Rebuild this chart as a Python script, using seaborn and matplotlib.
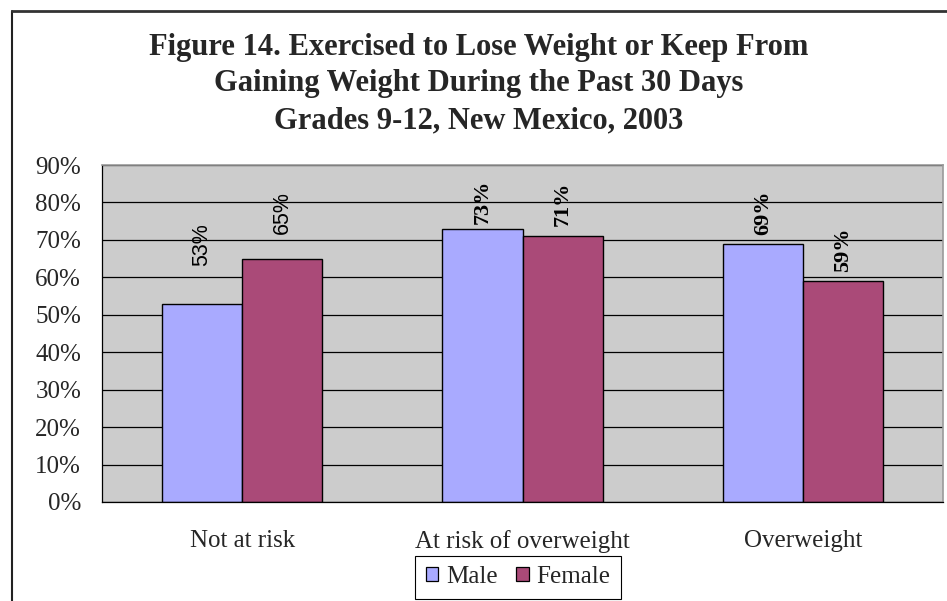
import matplotlib
matplotlib.use("Agg")
import matplotlib.pyplot as plt
from matplotlib.lines import Line2D
from matplotlib.patches import Patch
from matplotlib.ticker import FixedLocator, NullFormatter
import pandas as pd
import seaborn as sns

# --- data -------------------------------------------------------------
categories = ["Not at risk", "At risk of overweight", "Overweight"]
groups = ["Male", "Female"]
male = [53, 73, 69]
female = [65, 71, 59]
y_ticks = [0, 10, 20, 30, 40, 50, 60, 70, 80, 90]
y_tick_labels = [f"{v}%" for v in y_ticks]
title_lines = [
    "Figure 14. Exercised to Lose Weight or Keep From",
    "Gaining Weight During the Past 30 Days",
    "Grades 9-12, New Mexico, 2003",
]

# --- styling ----------------------------------------------------------
colors = {"Male": "#A9AAFF", "Female": "#AA4A78"}
# gap (points) between each bar top and its value label, per group
label_gap = {"Male": [27, 3, 6.5], "Female": [18, 7, 6.5]}
label_style = [
    dict(family="Liberation Sans", weight="normal", size=15.5),
    dict(family="Liberation Serif", weight="bold", size=16),
    dict(family="Liberation Serif", weight="bold", size=16),
]

df = pd.DataFrame({
    "Category": categories * 2,
    "Sex": ["Male"] * len(categories) + ["Female"] * len(categories),
    "Percent": male + female,
})

sns.set_theme(style="white")
plt.rcParams["font.family"] = ["Liberation Serif", "DejaVu Serif"]

W, H = 947, 601
fig = plt.figure(figsize=(W / 100, H / 100), dpi=100)
fig.patch.set_facecolor("white")

ax = fig.add_axes([102 / W, 1 - 502 / H, (943 - 102) / W, (502 - 165) / H])
ax.set_facecolor("#CCCCCC")

sns.barplot(
    data=df, x="Category", y="Percent", hue="Sex",
    order=categories, hue_order=groups, palette=colors,
    width=0.571, saturation=1, edgecolor="black", linewidth=1.0,
    legend=False, ax=ax,
)

ax.set_xlim(-0.5, len(categories) - 0.5)
ax.set_ylim(0, 90)
ax.set_xlabel("")
ax.set_ylabel("")

# y axis
ax.set_yticks(y_ticks)
ax.set_yticklabels(y_tick_labels, fontsize=18)
ax.yaxis.grid(True, color="black", linewidth=0.9)
ax.set_axisbelow(True)
ax.tick_params(axis="y", direction="out", length=5, width=0.9, color="black", pad=10)

# x axis: tick marks on category boundaries, labels centred under groups
n = len(categories)
ax.xaxis.set_major_locator(FixedLocator([i - 0.5 for i in range(n + 1)]))
ax.xaxis.set_major_formatter(NullFormatter())
ax.xaxis.set_minor_locator(FixedLocator(list(range(n))))
ax.set_xticklabels(categories, minor=True, fontsize=18)
ax.tick_params(axis="x", which="major", direction="out", length=6, width=0.9, color="black")
ax.tick_params(axis="x", which="minor", length=0, pad=20)

for side in ("left", "bottom"):
    ax.spines[side].set_color("black")
    ax.spines[side].set_linewidth(0.9)
for side in ("top", "right"):
    ax.spines[side].set_color("#9A9A9A")
    ax.spines[side].set_linewidth(1.2)

# value labels above each bar
for container, g in zip(ax.containers, groups):
    for i, (bar, val) in enumerate(zip(container, male if g == "Male" else female)):
        ax.annotate(
            f"{val}%",
            xy=(bar.get_x() + bar.get_width() / 2, val),
            xytext=(0, label_gap[g][i]), textcoords="offset points",
            rotation=90, ha="center", va="bottom", color="black",
            **label_style[i],
        )

# title
for k, line in enumerate(title_lines):
    fig.text(479 / W, 1 - (55 + 36.5 * k) / H, line, ha="center", va="baseline",
             fontsize=22, fontweight="bold", family="Liberation Serif")

# legend
handles = [Patch(facecolor=colors[g], edgecolor="black", linewidth=0.9) for g in groups]
leg = fig.legend(
    handles, groups, loc="center", bbox_to_anchor=(518 / W, 1 - 577 / H),
    ncol=2, frameon=True, fancybox=False, edgecolor="black", framealpha=1,
    fontsize=18, handlelength=0.5, handleheight=0.5, handletextpad=0.3,
    columnspacing=0.75, borderpad=0.42,
)
leg.get_frame().set_linewidth(0.8)

# outer chart border (left and top edges)
fig.add_artist(Line2D([12 / W, 12 / W], [0, 1 - 11 / H], transform=fig.transFigure,
                      color="#222222", linewidth=1.5))
fig.add_artist(Line2D([12 / W, 1], [1 - 11 / H, 1 - 11 / H], transform=fig.transFigure,
                      color="#333333", linewidth=2))

fig.savefig("out.png", dpi=100, facecolor="white")
